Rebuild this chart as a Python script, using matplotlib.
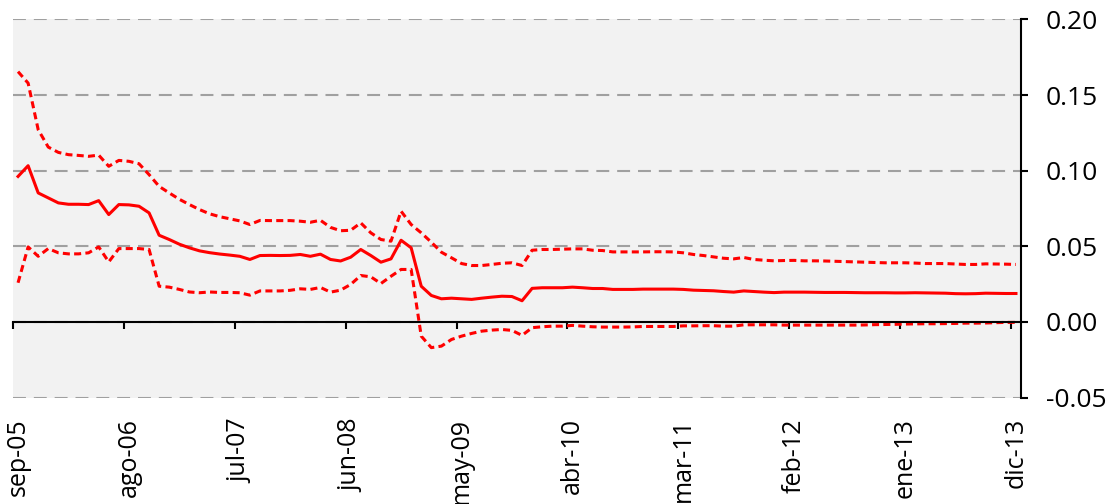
import numpy as np
import matplotlib.pyplot as plt
from matplotlib.ticker import FixedLocator, NullFormatter

plt.rcParams['font.family'] = ['Open Sans', 'DejaVu Sans']

# monthly values, sep-05 .. dic-13 (100 months)
central = [0.0962, 0.1033, 0.0853, 0.0820, 0.0787, 0.0778, 0.0778, 0.0776, 0.0802, 0.0710,
           0.0776, 0.0774, 0.0765, 0.0721, 0.0573, 0.0545, 0.0514, 0.0490, 0.0470, 0.0458,
           0.0449, 0.0442, 0.0434, 0.0413, 0.0439, 0.0440, 0.0439, 0.0440, 0.0446, 0.0434,
           0.0448, 0.0413, 0.0403, 0.0428, 0.0479, 0.0439, 0.0395, 0.0417, 0.0540, 0.0490,
           0.0236, 0.0175, 0.0153, 0.0157, 0.0153, 0.0149, 0.0157, 0.0164, 0.0170, 0.0168,
           0.0140, 0.0222, 0.0226, 0.0226, 0.0226, 0.0230, 0.0226, 0.0221, 0.0221, 0.0215,
           0.0215, 0.0215, 0.0217, 0.0217, 0.0217, 0.0217, 0.0215, 0.0210, 0.0208, 0.0206,
           0.0201, 0.0197, 0.0205, 0.0201, 0.0197, 0.0194, 0.0197, 0.0197, 0.0197, 0.0196,
           0.0195, 0.0195, 0.0195, 0.0194, 0.0193, 0.0193, 0.0193, 0.0192, 0.0192, 0.0193,
           0.0192, 0.0191, 0.0190, 0.0187, 0.0186, 0.0187, 0.0190, 0.0189, 0.0188, 0.0188]

upper = [0.1655, 0.1579, 0.1271, 0.1156, 0.1121, 0.1106, 0.1101, 0.1095, 0.1103, 0.1029,
         0.1068, 0.1062, 0.1046, 0.0974, 0.0896, 0.0853, 0.0811, 0.0776, 0.0743, 0.0715,
         0.0696, 0.0682, 0.0668, 0.0644, 0.0671, 0.0670, 0.0670, 0.0670, 0.0666, 0.0659,
         0.0672, 0.0625, 0.0603, 0.0606, 0.0655, 0.0589, 0.0545, 0.0534, 0.0732, 0.0644,
         0.0589, 0.0527, 0.0461, 0.0424, 0.0386, 0.0373, 0.0373, 0.0380, 0.0388, 0.0391,
         0.0373, 0.0474, 0.0479, 0.0479, 0.0481, 0.0483, 0.0483, 0.0474, 0.0472, 0.0463,
         0.0463, 0.0463, 0.0463, 0.0464, 0.0464, 0.0463, 0.0457, 0.0446, 0.0439, 0.0430,
         0.0421, 0.0417, 0.0426, 0.0413, 0.0408, 0.0404, 0.0406, 0.0407, 0.0404, 0.0404,
         0.0403, 0.0401, 0.0399, 0.0397, 0.0395, 0.0393, 0.0391, 0.0391, 0.0391, 0.0389,
         0.0386, 0.0386, 0.0386, 0.0383, 0.0380, 0.0380, 0.0384, 0.0383, 0.0382, 0.0380]

lower = [0.0259, 0.0496, 0.0434, 0.0485, 0.0457, 0.0450, 0.0450, 0.0457, 0.0496, 0.0397,
         0.0485, 0.0485, 0.0485, 0.0479, 0.0236, 0.0230, 0.0215, 0.0198, 0.0193, 0.0198,
         0.0195, 0.0195, 0.0193, 0.0177, 0.0205, 0.0205, 0.0205, 0.0209, 0.0219, 0.0215,
         0.0228, 0.0197, 0.0210, 0.0248, 0.0307, 0.0298, 0.0254, 0.0302, 0.0347, 0.0347,
         -0.0094, -0.0170, -0.0160, -0.0116, -0.0094, -0.0076, -0.0061, -0.0054, -0.0050, -0.0056,
         -0.0089, -0.0038, -0.0032, -0.0028, -0.0028, -0.0023, -0.0028, -0.0032, -0.0034, -0.0034,
         -0.0034, -0.0033, -0.0030, -0.0030, -0.0030, -0.0030, -0.0026, -0.0026, -0.0025, -0.0025,
         -0.0028, -0.0028, -0.0019, -0.0019, -0.0019, -0.0019, -0.0021, -0.0021, -0.0021, -0.0021,
         -0.0021, -0.0021, -0.0021, -0.0021, -0.0020, -0.0018, -0.0017, -0.0016, -0.0014, -0.0013,
         -0.0012, -0.0012, -0.0011, -0.0010, -0.0008, -0.0008, -0.0007, -0.0005, -0.0003, -0.0003]

tick_labels = ['sep-05', 'ago-06', 'jul-07', 'jun-08', 'may-09',
               'abr-10', 'mar-11', 'feb-12', 'ene-13', 'dic-13']
tick_step = 11
y_ticks = [-0.05, 0.00, 0.05, 0.10, 0.15, 0.20]

x = np.arange(len(central))

fig = plt.figure(figsize=(11.12, 5.04), dpi=100)
ax = fig.add_axes([13 / 1112, 1 - 398 / 504, (1021 - 13) / 1112, (398 - 19) / 504])
ax.set_facecolor('#f2f2f2')

dash = (0, (2.3, 1.4))
ax.plot(x, upper, color='red', lw=2.2, ls=dash, zorder=3)
ax.plot(x, central, color='red', lw=2.2, zorder=3)
ax.plot(x, lower, color='red', lw=2.2, ls=dash, zorder=3)

ax.set_xlim(-0.5, len(central) - 0.5)
ax.set_ylim(-0.0503, 0.2003)

# y axis on the right
ax.yaxis.tick_right()
ax.set_yticks(y_ticks)
ax.set_yticklabels([f'{v:.2f}' for v in y_ticks])
ax.tick_params(axis='y', direction='out', length=5, width=1.5, pad=13,
               labelsize=19, colors='black')
ax.yaxis.grid(True, color='#a0a0a0', lw=1.5, ls=(0, (6.2, 3.8)))
ax.set_axisbelow(True)

for s in ['left', 'top']:
    ax.spines[s].set_visible(False)
ax.spines['right'].set_linewidth(1.5)
ax.spines['right'].set_bounds(-0.05, 0.20)
ax.spines['bottom'].set_position(('data', 0))
ax.spines['bottom'].set_linewidth(1.5)
ax.spines['bottom'].set_zorder(4)

# tick marks between categories on the zero line
idx = np.arange(0, len(central), tick_step)
ax.xaxis.set_major_locator(FixedLocator(idx - 0.5))
ax.xaxis.set_major_formatter(NullFormatter())
ax.tick_params(axis='x', direction='out', length=5, width=1.5)

# category labels below the plot area
for i, lab in zip(idx, tick_labels):
    ax.text(i, -0.053, lab, rotation=90, ha='center', va='top', fontsize=18,
            transform=ax.get_xaxis_transform())

fig.savefig('out.png', dpi=100)
